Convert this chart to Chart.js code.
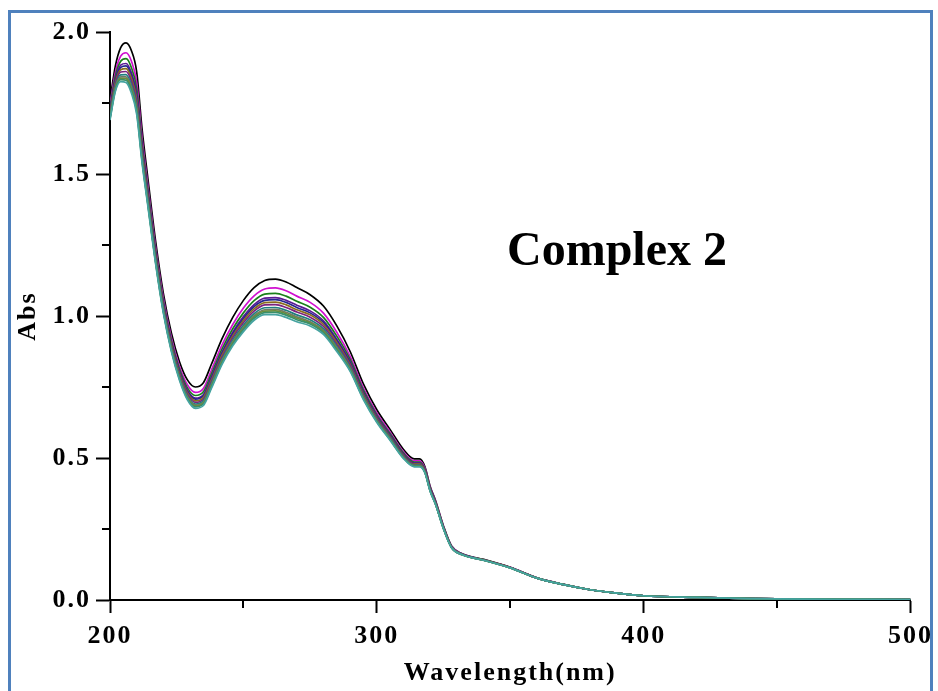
<!DOCTYPE html>
<html>
<head>
<meta charset="utf-8">
<script src="https://cdn.jsdelivr.net/npm/chart.js@4.4.1/dist/chart.umd.min.js"></script>
<style>
  html, body { margin: 0; padding: 0; background: #ffffff; }
  #frame { position: absolute; left: 8px; top: 10px; width: 925px; height: 700px; border: 3px solid #4f81bd; box-sizing: border-box; }
  #wrap { position: absolute; left: 0; top: 0; width: 938px; height: 691px; }
</style>
</head>
<body>
<div id="frame"></div>
<div id="wrap"><canvas id="c" width="938" height="691"></canvas></div>
<script>
// ---- data ----
const wavelengths = [200,202,204,206,208,210,212,214,217,220,223,226,229,232,235,238,242,246,250,254,258,262,266,270,275,280,285,290,295,300,305,310,314,316,318,320,322,325,328,332,340,350,360,370,380,390,400,420,440,460,480,500];

const absBlack = [1.760,1.880,1.945,1.962,1.935,1.860,1.660,1.500,1.270,1.080,0.940,0.840,0.775,0.750,0.765,0.830,0.920,0.995,1.055,1.100,1.125,1.130,1.120,1.100,1.075,1.035,0.965,0.875,0.760,0.670,0.600,0.530,0.497,0.497,0.470,0.400,0.350,0.260,0.190,0.163,0.143,0.115,0.078,0.055,0.036,0.024,0.015,0.009,0.005,0.003,0.002,0.001];
const absMagenta = [1.743,1.858,1.915,1.927,1.898,1.823,1.630,1.475,1.250,1.063,0.924,0.824,0.758,0.731,0.745,0.809,0.898,0.970,1.028,1.071,1.095,1.099,1.089,1.070,1.048,1.010,0.943,0.858,0.746,0.659,0.591,0.522,0.490,0.490,0.465,0.396,0.347,0.258,0.189,0.162,0.142,0.115,0.078,0.055,0.036,0.024,0.015,0.009,0.005,0.003,0.002,0.001];
const absGreen = [1.732,1.844,1.897,1.906,1.875,1.800,1.612,1.460,1.238,1.052,0.914,0.814,0.747,0.720,0.733,0.796,0.884,0.955,1.011,1.054,1.077,1.080,1.070,1.052,1.031,0.995,0.929,0.847,0.738,0.652,0.585,0.517,0.486,0.486,0.461,0.393,0.344,0.256,0.188,0.161,0.142,0.114,0.078,0.055,0.036,0.024,0.015,0.009,0.005,0.003,0.002,0.001];
const absViolet = [1.724,1.833,1.883,1.889,1.857,1.782,1.598,1.448,1.228,1.044,0.906,0.806,0.739,0.711,0.723,0.786,0.873,0.943,0.998,1.040,1.063,1.065,1.055,1.038,1.018,0.983,0.918,0.839,0.731,0.647,0.580,0.513,0.482,0.482,0.459,0.391,0.343,0.255,0.187,0.161,0.141,0.114,0.077,0.054,0.036,0.024,0.015,0.009,0.005,0.003,0.002,0.001];
const absNavy = [1.719,1.828,1.875,1.881,1.848,1.773,1.590,1.442,1.224,1.039,0.902,0.802,0.734,0.707,0.719,0.781,0.868,0.937,0.991,1.033,1.055,1.058,1.048,1.030,1.011,0.977,0.913,0.834,0.728,0.644,0.578,0.511,0.481,0.481,0.457,0.390,0.342,0.254,0.187,0.161,0.141,0.114,0.077,0.054,0.036,0.024,0.015,0.009,0.005,0.003,0.002,0.001];
const absOlive = [1.715,1.822,1.867,1.871,1.838,1.763,1.582,1.435,1.218,1.035,0.898,0.798,0.730,0.701,0.713,0.775,0.862,0.930,0.984,1.025,1.047,1.049,1.039,1.022,1.004,0.970,0.907,0.830,0.724,0.641,0.575,0.509,0.479,0.479,0.456,0.388,0.341,0.254,0.186,0.160,0.141,0.114,0.077,0.054,0.036,0.024,0.015,0.009,0.005,0.003,0.002,0.001];
const absPurple = [1.710,1.815,1.859,1.861,1.827,1.752,1.574,1.428,1.212,1.030,0.893,0.793,0.725,0.696,0.707,0.769,0.855,0.923,0.976,1.017,1.039,1.040,1.030,1.014,0.996,0.963,0.900,0.825,0.720,0.638,0.573,0.507,0.477,0.477,0.454,0.387,0.340,0.253,0.186,0.160,0.141,0.114,0.077,0.054,0.036,0.024,0.015,0.009,0.005,0.003,0.002,0.001];
const absDarkCyan = [1.704,1.808,1.849,1.850,1.815,1.740,1.564,1.420,1.206,1.024,0.888,0.788,0.719,0.690,0.701,0.762,0.848,0.915,0.967,1.008,1.029,1.030,1.020,1.004,0.987,0.955,0.893,0.819,0.716,0.634,0.570,0.504,0.475,0.475,0.452,0.386,0.339,0.252,0.185,0.160,0.141,0.113,0.077,0.054,0.036,0.024,0.015,0.009,0.005,0.003,0.002,0.001];
const absGray = [1.700,1.803,1.842,1.842,1.806,1.731,1.557,1.414,1.201,1.020,0.884,0.784,0.715,0.686,0.696,0.757,0.843,0.909,0.960,1.001,1.022,1.023,1.013,0.997,0.980,0.949,0.888,0.815,0.713,0.631,0.567,0.502,0.473,0.473,0.451,0.385,0.338,0.251,0.185,0.160,0.140,0.113,0.077,0.054,0.036,0.024,0.015,0.009,0.005,0.003,0.002,0.001];
const absOliveDrab = [1.697,1.799,1.837,1.836,1.800,1.725,1.552,1.410,1.198,1.017,0.882,0.782,0.712,0.683,0.693,0.754,0.839,0.905,0.956,0.997,1.017,1.018,1.008,0.992,0.976,0.945,0.884,0.812,0.711,0.630,0.566,0.501,0.472,0.472,0.450,0.384,0.337,0.251,0.185,0.159,0.140,0.113,0.077,0.054,0.036,0.024,0.015,0.009,0.005,0.003,0.002,0.001];
const absSeaGreen = [1.694,1.795,1.832,1.830,1.794,1.719,1.547,1.406,1.195,1.014,0.879,0.779,0.709,0.680,0.690,0.750,0.835,0.901,0.952,0.992,1.012,1.013,1.003,0.987,0.972,0.941,0.880,0.809,0.708,0.628,0.564,0.500,0.471,0.471,0.449,0.383,0.337,0.251,0.184,0.159,0.140,0.113,0.077,0.054,0.036,0.024,0.015,0.009,0.005,0.003,0.002,0.001];
const absTeal = [1.690,1.790,1.825,1.822,1.785,1.710,1.540,1.400,1.190,1.010,0.875,0.775,0.705,0.675,0.685,0.745,0.830,0.895,0.945,0.985,1.005,1.005,0.995,0.980,0.965,0.935,0.875,0.805,0.705,0.625,0.562,0.498,0.469,0.469,0.448,0.382,0.336,0.250,0.184,0.159,0.140,0.113,0.077,0.054,0.036,0.024,0.015,0.009,0.005,0.003,0.002,0.001];

const seriesNames = ['Curve 1','Curve 2','Curve 3','Curve 4','Curve 5','Curve 6','Curve 7','Curve 8','Curve 9','Curve 10','Curve 11','Curve 12'];
const seriesValues = [absBlack, absMagenta, absGreen, absViolet, absNavy, absOlive, absPurple, absDarkCyan, absGray, absOliveDrab, absSeaGreen, absTeal];
const seriesColors = ['#000000','#d010d0','#1a801a','#5b1a95','#26268f','#8a6d1e','#7d237d','#1f7f7f','#707a68','#6b8e3a','#3a8f6a','#45a3a0'];

const xTicks = [200, 300, 400, 500];
const xMinorTicks = [250, 350, 450];
const yTicks = [0.0, 0.5, 1.0, 1.5, 2.0];
const yMinorTicks = [0.25, 0.75, 1.25, 1.75];
const annotationText = 'Complex 2';
const annotationAt = { x: 390, y: 1.225 };

// ---- chart ----
const serif = '"Liberation Serif", "Times New Roman", serif';

const datasets = seriesValues.map((vals, i) => ({
  label: seriesNames[i],
  data: wavelengths.map((w, j) => ({ x: w, y: vals[j] })),
  borderColor: seriesColors[i],
  backgroundColor: seriesColors[i],
  borderWidth: 1.7,
  pointRadius: 0,
  fill: false,
  cubicInterpolationMode: 'monotone',
  order: seriesValues.length - i
}));

const extras = {
  id: 'extras',
  beforeDraw(chart) {
    chart.ctx.letterSpacing = '2px';
  },
  afterDraw(chart) {
    const ctx = chart.ctx;
    const xs = chart.scales.x, ys = chart.scales.y;
    ctx.save();
    ctx.letterSpacing = '0px';
    ctx.strokeStyle = '#000';
    ctx.lineWidth = 2;
    ctx.beginPath();
    yMinorTicks.forEach(v => {
      const py = Math.round(ys.getPixelForValue(v));
      ctx.moveTo(xs.left - 8, py);
      ctx.lineTo(xs.left, py);
    });
    xMinorTicks.forEach(v => {
      const px = Math.round(xs.getPixelForValue(v));
      ctx.moveTo(px, ys.bottom);
      ctx.lineTo(px, ys.bottom + 8);
    });
    ctx.stroke();
    ctx.fillStyle = '#000';
    ctx.font = 'bold 48px ' + serif;
    ctx.textAlign = 'center';
    ctx.textBaseline = 'middle';
    ctx.fillText(annotationText, xs.getPixelForValue(annotationAt.x), ys.getPixelForValue(annotationAt.y));
    ctx.restore();
  }
};

new Chart(document.getElementById('c'), {
  type: 'line',
  data: { datasets },
  plugins: [extras],
  options: {
    responsive: false,
    animation: false,
    events: [],
    layout: { padding: { left: 0, top: 32, right: 25, bottom: 0 } },
    plugins: { legend: { display: false }, tooltip: { enabled: false }, title: { display: false } },
    scales: {
      x: {
        type: 'linear',
        min: 200, max: 500,
        afterFit(s) { s.height = 91; },
        afterBuildTicks(s) { s.ticks = xTicks.map(v => ({ value: v })); },
        ticks: {
          color: '#000',
          font: { family: serif, size: 26, weight: 'bold' },
          padding: 8,
          maxRotation: 0,
          autoSkip: false,
          callback: v => String(v)
        },
        grid: { drawOnChartArea: false, drawTicks: true, tickLength: 13, tickWidth: 2, tickColor: '#000' },
        border: { display: true, color: '#000', width: 2 },
        title: {
          display: true,
          text: 'Wavelength(nm)',
          color: '#000',
          font: { family: serif, size: 26, weight: 'bold' },
          padding: { top: 0, bottom: 2 }
        }
      },
      y: {
        type: 'linear',
        min: 0, max: 2,
        afterFit(s) { s.width = 110; },
        afterBuildTicks(s) { s.ticks = yTicks.map(v => ({ value: v })); },
        ticks: {
          color: '#000',
          font: { family: serif, size: 26, weight: 'bold' },
          padding: 5,
          autoSkip: false,
          callback: v => Number(v).toFixed(1)
        },
        grid: { drawOnChartArea: false, drawTicks: true, tickLength: 14, tickWidth: 2, tickColor: '#000' },
        border: { display: true, color: '#000', width: 2 },
        title: {
          display: true,
          text: 'Abs',
          color: '#000',
          font: { family: serif, size: 26, weight: 'bold' },
          padding: { top: 13, bottom: 0 }
        }
      }
    }
  }
});
</script>
</body>
</html>
